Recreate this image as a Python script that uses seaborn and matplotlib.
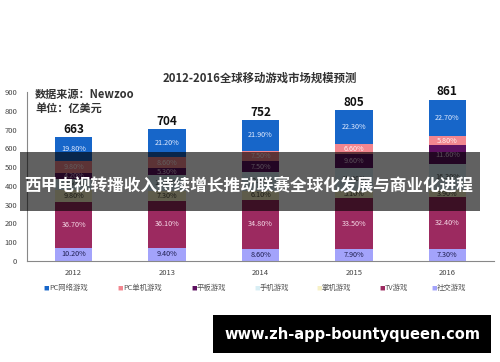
import numpy as np
import pandas as pd
import matplotlib
matplotlib.use("Agg")
import matplotlib.pyplot as plt
import seaborn as sns
from matplotlib.patches import Rectangle

# data (percent shares of each year's total)
years = ["2012", "2013", "2014", "2015", "2016"]
totals = [663, 704, 752, 805, 861]

series_names = ["PC网络游戏", "PC单机游戏", "平板游戏", "手机游戏", "掌机游戏", "TV游戏", "社交游戏"]
pc_online = [19.8, 21.2, 21.9, 22.3, 22.7]
pc_single = [9.8, 8.6, 7.5, 6.6, 5.8]
tablet = [4.2, 5.3, 7.5, 9.6, 11.6]
mobile = [9.5, 12.1, 13.6, 15.0, 16.3]
handheld = [9.8, 7.3, 6.1, 5.1, 3.9]
tv = [36.7, 36.1, 34.8, 33.5, 32.4]
social = [10.2, 9.4, 8.6, 7.9, 7.3]

colors = ["#1766c9", "#f2868f", "#5e1160", "#d8eef4", "#f7f1c6", "#9c2a60", "#a3a3fb"]
label_colors = ["#e3ecff", "#fff2f2", "#e8cfe8", "#555555", "#4a4a3a", "#f6dbe8", "#1e1e50"]

sns.set_style("white")
plt.rcParams["font.family"] = ["Noto Sans CJK SC", "DejaVu Sans"]

fig = plt.figure(figsize=(5, 3.62), dpi=100)
ax = fig.add_axes([0.054, 0.28, 0.934, 0.465])

# stack from the bottom: social, tv, handheld, mobile, tablet, pc single, pc online
shares = [pc_online, pc_single, tablet, mobile, handheld, tv, social]
stack = list(zip(series_names, shares, colors, label_colors))[::-1]

tot = np.array(totals, dtype=float)
bottom = np.zeros(len(years))
layers = []
for name, pct, col, lc in stack:
    h = tot * np.array(pct) / 100.0
    layers.append((name, pct, col, lc, bottom.copy(), h))
    bottom = bottom + h

# draw cumulative bars from the tallest down so the smaller ones sit on top
for name, pct, col, lc, b, h in layers[::-1]:
    df = pd.DataFrame({"year": years, "value": b + h})
    sns.barplot(data=df, x="year", y="value", color=col, saturation=1,
                width=0.4, ax=ax, linewidth=0)

for name, pct, col, lc, b, h in layers:
    for i in range(len(years)):
        ax.text(i, b[i] + h[i] / 2, f"{pct[i]:.2f}%", ha="center", va="center",
                fontsize=5.2, color=lc)

for i, t in enumerate(totals):
    ax.text(i, t + 6, str(t), ha="center", va="bottom", fontsize=8.5,
            fontweight="bold", color="#111111")

ax.set_xlim(-0.5, 4.5)
ax.set_ylim(0, 900)
ax.set_yticks(range(0, 1000, 100))
ax.set_xticks(np.arange(-0.5, 5, 1), minor=True)
ax.set_xlabel("")
ax.set_ylabel("")
ax.tick_params(axis="y", labelsize=5.5, labelcolor="#444444", length=2, color="#888888", pad=5)
ax.tick_params(axis="x", which="major", labelsize=5.5, labelcolor="#444444", length=0, pad=6)
ax.tick_params(axis="x", which="minor", length=2, color="#888888")
for s in ["top", "right"]:
    ax.spines[s].set_visible(False)
for s in ["left", "bottom"]:
    ax.spines[s].set_color("#888888")
    ax.spines[s].set_linewidth(0.8)

# titles
fig.text(0.52, 0.785, "2012-2016全球移动游戏市场规模预测", ha="center", va="center",
         fontsize=8.2, fontweight="bold", color="#333333")
fig.text(0.07, 0.74, "数据来源：Newzoo", ha="left", va="center", fontsize=8,
         fontweight="bold", color="#333333")
fig.text(0.07, 0.702, "单位：亿美元", ha="left", va="center", fontsize=8,
         fontweight="bold", color="#333333")

# legend entries placed along the bottom
leg_x = [0.086, 0.234, 0.382, 0.508, 0.632, 0.758, 0.862]
for x, name, col in zip(leg_x, series_names, colors):
    fig.text(x, 0.205, "■", ha="left", va="center", fontsize=4, color=col)
    fig.text(x + 0.012, 0.205, name, ha="left", va="center", fontsize=5.3, color="#555555")

# dark caption band across the chart
fig.patches.append(Rectangle((0.04, 1 - 211 / 362), 0.92, 59 / 362, transform=fig.transFigure,
                             facecolor="black", alpha=0.62, edgecolor="none", zorder=5))
fig.text(0.498, 1 - 186 / 362, "西甲电视转播收入持续增长推动联赛全球化发展与商业化进程",
         ha="center", va="center", fontsize=12, fontweight="bold", color="white", zorder=6)

# site label box
fig.patches.append(Rectangle((213 / 500, 1 - 353 / 362), 278 / 500, 38 / 362,
                             transform=fig.transFigure, facecolor="black",
                             edgecolor="none", zorder=5))
fig.text(352 / 500, 1 - 334 / 362, "www.zh-app-bountyqueen.com", ha="center", va="center",
         fontsize=10.5, fontweight="bold", color="white", family="DejaVu Sans", zorder=6)

fig.savefig("out.png", dpi=100)
